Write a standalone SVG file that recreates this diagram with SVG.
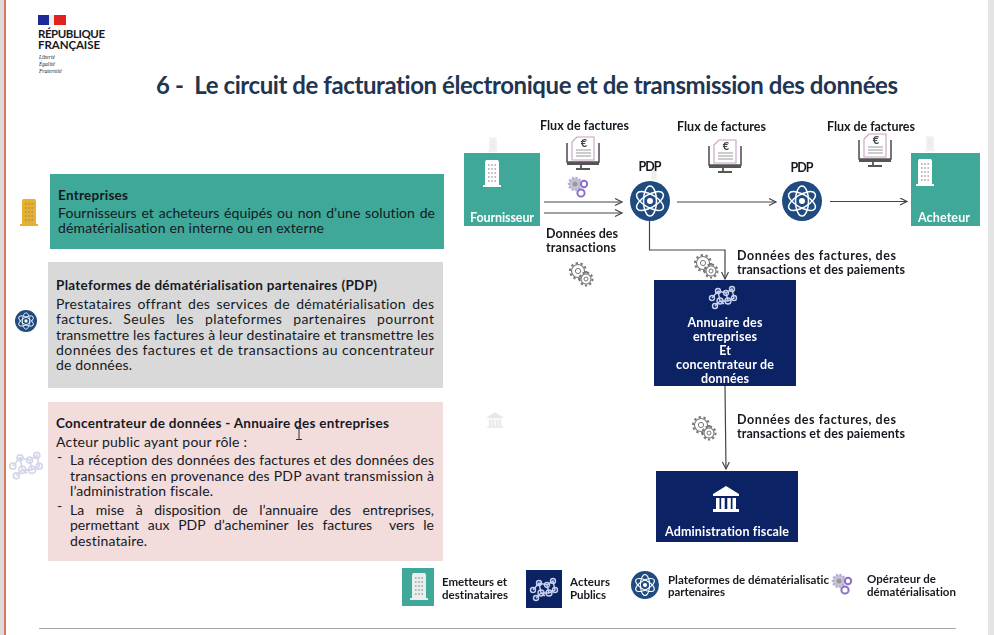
<svg xmlns="http://www.w3.org/2000/svg" width="994" height="635" viewBox="0 0 994 635">
<style>
text{font-family:Lato,"Noto Sans","Liberation Sans",sans-serif;fill:#16191f;font-variant-ligatures:none;white-space:pre}
.b{font-size:14px;font-weight:400}
.h{font-size:13.500px;font-weight:700}
.l{font-size:12.500px;font-weight:700}
.w{font-size:12.500px;font-weight:700;fill:#fff;text-anchor:middle}
.k{font-size:11.500px;font-weight:700}
.s{font-family:"Liberation Serif",serif;font-style:italic;font-size:5.500px}
.c{fill:none;stroke:#444;stroke-width:1.200}
</style>
<defs>
<marker id="ar" markerWidth="10" markerHeight="10" refX="8" refY="4" orient="auto" markerUnits="userSpaceOnUse"><path d="M1 .5L8 4L1 7.500" fill="none" stroke="#444" stroke-width="1.200"/></marker>
<g id="bld"><path d="M-6-14H6L7-12V11H9V13H-9V11H-7V-12Z" fill="currentColor"/><path d="M-4-9h8M-4-5h8M-4-1h8M-4 3h8M-4 7h8" stroke="#888" stroke-width="1.600" stroke-dasharray="1.600 1.600" opacity=".75"/></g>
<g id="atom"><circle r="20" fill="#1f4b80"/><g fill="none" stroke="#fff" stroke-width="1.500"><ellipse rx="15" ry="6.500" transform="rotate(30)"/><ellipse rx="15" ry="6.500" transform="rotate(-30)"/><ellipse rx="6.500" ry="15"/></g><circle r="3" fill="#fff"/></g>
<g id="gears" fill="none" stroke="#777"><circle cx="-3" cy="-3" r="6.500" stroke-width="1.100"/><circle cx="-3" cy="-3" r="8" stroke-width="2" stroke-dasharray="2.400 2.600"/><circle cx="-3" cy="-3" r="2.600" stroke-width="1"/><circle cx="5" cy="5" r="5" stroke-width="1.100" fill="#fff"/><circle cx="5" cy="5" r="6.500" stroke-width="2" stroke-dasharray="2.200 2.200"/><circle cx="5" cy="5" r="2" stroke-width="1"/></g>
<g id="pgears"><circle cx="-3" cy="-3" r="6" fill="#c4c4d4" stroke="#b5a8de" stroke-width="2.500" stroke-dasharray="2 1.500"/><circle cx="-3" cy="-3" r="2.500" fill="#999"/><circle cx="6" cy="-3" r="3.200" fill="none" stroke="#8a70c8" stroke-width="2"/><circle cx="3" cy="6" r="3.600" fill="none" stroke="#8a70c8" stroke-width="2"/></g>
<g id="mon"><path d="M-16-10V9H16V-10" fill="none" stroke="#555" stroke-width="1.600"/><path d="M-16 9V12H16V9Z" fill="#555"/><path d="M-2 12V15M-7 16H7" stroke="#555" stroke-width="1.800"/><path d="M-11-11L-6-16H11V7H-11Z" fill="#fff" stroke="#c9a0c4" stroke-width="1.100"/><path d="M-7-3H8M-7 0H8M-7 3H8" stroke="#999" stroke-width="1.200"/><text x="1" y="-6" font-size="11" font-weight="700" text-anchor="middle" style="fill:#444">€</text></g>
<g id="net" fill="none" stroke="currentColor" stroke-width="1.400"><path d="M-11 1L-5-6L3-4L9-8L11 1L5 4L-3 4L-5-6M-3 4L-8 9M5 4L3-4M-3 4L1 7"/><circle cx="-11" cy="1" r="2.500"/><circle cx="-5" cy="-6" r="2.500"/><circle cx="3" cy="-4" r="2.500"/><circle cx="9" cy="-8" r="2.500"/><circle cx="11" cy="1" r="2.500"/><circle cx="5" cy="4" r="3"/><circle cx="-3" cy="4" r="3"/><circle cx="-8" cy="9" r="2.500"/></g>
<g id="bank" fill="currentColor"><path d="M0-13L13-5V-3H-13V-5Z"/><path d="M-10-1h3.500v11h-3.500zM-4.800-1h3.500v11h-3.500zM1.300-1h3.500v11h-3.500zM6.500-1h3.500v11h-3.500z"/><path d="M-13 10H13V13H-13Z"/></g>
</defs>
<rect width="994" height="635" fill="#fff"/>
<g id="frame"><rect x="0" y="0" width="4" height="635" fill="#dcdcdc"/><rect x="4" y="0" width="2" height="635" fill="#d9785c"/><rect x="988" y="0" width="6" height="635" fill="#e4e4e4"/><path d="M39 628.500H956" stroke="#a8a8a8" stroke-width="1.200"/></g>
<g id="logo"><rect x="38" y="15" width="11" height="10" fill="#1f2a9a"/><rect x="49" y="15" width="5" height="10" fill="#eee"/><rect x="54" y="15" width="12" height="10" fill="#e1231f"/>
<text x="38" y="38" font-size="11.500" font-weight="700" textLength="67">RÉPUBLIQUE</text><text x="38" y="49" font-size="11.500" font-weight="700" textLength="62">FRANÇAISE</text>
<text x="39" y="59" class="s">Liberté</text><text x="39" y="66" class="s">Égalité</text><text x="39" y="73" class="s">Fraternité</text></g>
<text id="title" x="156" y="94" font-size="24" font-weight="700" style="fill:#1f3552" textLength="742">6 -  Le circuit de facturation électronique et de transmission des données</text>
<g id="box-entreprises"><rect x="50" y="174" width="394" height="75" fill="#3fa898"/><text class="h" x="58" y="200" textLength="70">Entreprises</text><text class="b" x="58" y="218" textLength="377" word-spacing="1">Fournisseurs et acheteurs équipés ou non d’une solution de</text><text class="b" x="58" y="233" textLength="266">dématérialisation en interne ou en externe</text><use href="#bld" x="29" y="213" style="color:#e8b02c"/></g>
<g id="box-pdp"><rect x="48" y="262" width="395" height="126" fill="#d9d9d9"/><text class="h" x="56" y="290" textLength="321">Plateformes de dématérialisation partenaires (PDP)</text><text class="b" x="56" y="309" textLength="378" word-spacing="2.500">Prestataires offrant des services de dématérialisation des</text><text class="b" x="56" y="324" textLength="378" word-spacing="7">factures. Seules les plateformes partenaires pourront</text><text class="b" x="56" y="340" textLength="378">transmettre les factures à leur destinataire et transmettre les</text><text class="b" x="56" y="355" textLength="378">données des factures et de transactions au concentrateur</text><text class="b" x="56" y="370" textLength="76">de données.</text><use href="#atom" transform="translate(26 321) scale(.55)"/></g>
<g id="box-concentrateur"><rect x="48" y="402" width="395" height="159" fill="#f2dcdc"/><text class="h" x="56" y="428" textLength="333">Concentrateur de données - Annuaire des entreprises</text><text class="b" x="56" y="447" textLength="191">Acteur public ayant pour rôle :</text><text class="b" x="57" y="462">-</text><text class="b" x="70" y="465" textLength="364">La réception des données des factures et des données des</text><text class="b" x="70" y="481" textLength="364">transactions en provenance des PDP avant transmission à</text><text class="b" x="70" y="496" textLength="143">l’administration fiscale.</text><text class="b" x="57" y="511">-</text><text class="b" x="70" y="515" textLength="364" word-spacing="8">La mise à disposition de l’annuaire des entreprises,</text><text class="b" x="70" y="530" textLength="364" word-spacing="5">permettant aux PDP d’acheminer les factures  vers le</text><text class="b" x="70" y="546" textLength="77">destinataire.</text><use href="#net" transform="translate(26 465) scale(1.200)" style="color:#d4d6ea"/><path d="M296 428.500h6M299 428.500v11M296 439.500h6" stroke="#333" stroke-width="1"/></g>
<g id="ghosts" opacity=".28"><use href="#bld" transform="translate(493 145) scale(.55)" style="color:#ccc"/><use href="#bld" transform="translate(930 144) scale(.55)" style="color:#ccc"/><use href="#bld" transform="translate(654 175) scale(.4)" style="color:#ccc"/><use href="#bank" transform="translate(495 420) scale(.6)" style="color:#aaa"/></g>
<g id="connectors">
<path class="c" d="M544 202H622" marker-end="url(#ar)"/><path class="c" d="M544 213H622" marker-end="url(#ar)"/><path class="c" d="M677 202H776" marker-end="url(#ar)"/><path class="c" d="M830 201.500H907" marker-end="url(#ar)"/><path class="c" d="M649.500 221V250H725V279" marker-end="url(#ar)"/><path class="c" d="M725 386L726 469" marker-end="url(#ar)"/>
</g>
<g id="fournisseur"><rect x="464" y="153" width="76" height="73" fill="#3fa898"/><use href="#bld" x="492" y="174" style="color:#fff"/><text class="w" x="502" y="222" textLength="64">Fournisseur</text></g>
<g id="acheteur"><rect x="911" y="153" width="69" height="73" fill="#3fa898"/><use href="#bld" x="925" y="173" style="color:#fff"/><text class="w" x="944" y="222" textLength="52">Acheteur</text></g>
<g id="pdp1"><text class="l" x="650" y="171" text-anchor="middle" textLength="23">PDP</text><use href="#atom" x="650" y="201"/></g>
<g id="pdp2"><text class="l" x="802" y="172" text-anchor="middle" textLength="23">PDP</text><use href="#atom" x="802" y="201"/></g>
<g id="annuaire"><rect x="654" y="280" width="142" height="106" fill="#0b2265"/><use href="#net" x="723" y="297" style="color:#c9d2ee"/><text class="w" x="725" y="327" textLength="75">Annuaire des</text><text class="w" x="725" y="341" textLength="64">entreprises</text><text class="w" x="725" y="355">Et</text><text class="w" x="725" y="369" textLength="98">concentrateur de</text><text class="w" x="725" y="383" textLength="48">données</text></g>
<g id="administration"><rect x="656" y="471" width="142" height="71" fill="#0b2265"/><use href="#bank" x="726" y="499" style="color:#fff"/><text class="w" x="727" y="536" textLength="124">Administration fiscale</text></g>
<g id="labels">
<text class="l" x="540" y="130" textLength="89">Flux de factures</text><text class="l" x="677" y="131" textLength="89">Flux de factures</text><text class="l" x="827" y="131" textLength="88">Flux de factures</text>
<use href="#mon" x="583" y="153"/><use href="#mon" x="725" y="156"/><use href="#mon" x="875" y="150"/><use href="#pgears" x="578" y="187"/>
<text class="l" x="546" y="238" textLength="72">Données des</text><text class="l" x="546" y="252" textLength="70">transactions</text><use href="#gears" x="581" y="274"/>
<use href="#gears" x="706" y="266"/><text class="l" x="737" y="260" textLength="159">Données des factures, des</text><text class="l" x="737" y="274" textLength="168">transactions et des paiements</text>
<use href="#gears" x="704" y="428"/><text class="l" x="737" y="424" textLength="159">Données des factures, des</text><text class="l" x="737" y="438" textLength="168">transactions et des paiements</text>
</g>
<g id="legend">
<rect x="402" y="568" width="32" height="38" fill="#3fa898"/><use href="#bld" x="419" y="587" style="color:#e9eeee"/><text class="k" x="442" y="586" textLength="65">Emetteurs et</text><text class="k" x="442" y="599" textLength="66">destinataires</text>
<rect x="526" y="570" width="36" height="38" fill="#0b2265"/><use href="#net" x="544" y="589" style="color:#c9d2ee"/><text class="k" x="570" y="586" textLength="40">Acteurs</text><text class="k" x="570" y="599" textLength="36">Publics</text>
<use href="#atom" transform="translate(645 585) scale(.7)"/><text class="k" x="668" y="584" textLength="161">Plateformes de dématérialisatic</text><text class="k" x="668" y="596" textLength="57">partenaires</text>
<use href="#pgears" x="842" y="584"/><text class="k" x="867" y="583" textLength="69">Opérateur de</text><text class="k" x="867" y="596" textLength="89">dématérialisation</text>
</g>
</svg>
